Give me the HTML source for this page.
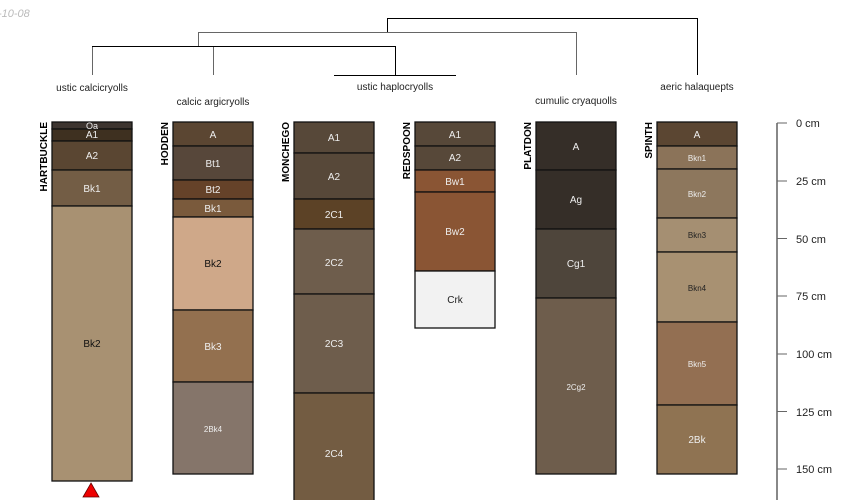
<!DOCTYPE html>
<html><head><meta charset="utf-8"><style>
html,body{margin:0;padding:0;background:#fff;}
svg{display:block;font-family:"Liberation Sans",sans-serif;}
</style></head><body>
<svg width="850" height="500" viewBox="0 0 850 500" xmlns="http://www.w3.org/2000/svg">
<text x="-2" y="17" font-size="11" font-style="italic" fill="#bbb">-10-08</text>
<!-- dendrogram -->
<g fill="none" stroke-width="1">
<path d="M387.5 33 V18.5 H697.5 V75" stroke="#000"/>
<path d="M198.5 47 V32.5 H576.5 V75" stroke="#666"/>
<path d="M92.5 75 V46.5 H395.5 V75" stroke="#000"/>
<path d="M92.5 47 V75" stroke="#666"/>
<path d="M213.5 47 V75" stroke="#666"/>
<path d="M334 75.5 H456" stroke="#000"/>
</g>
<g font-size="10" fill="#222" text-anchor="middle">
<text x="92" y="91">ustic calcicryolls</text>
<text x="213" y="105">calcic argicryolls</text>
<text x="395" y="90">ustic haplocryolls</text>
<text x="576" y="104">cumulic cryaquolls</text>
<text x="697" y="90">aeric halaquepts</text>
</g>
<g font-size="10" font-weight="bold" fill="#000" text-anchor="end">
<text transform="translate(47,122) rotate(-90)">HARTBUCKLE</text>
<text transform="translate(168,122) rotate(-90)">HODDEN</text>
<text transform="translate(289,122) rotate(-90)">MONCHEGO</text>
<text transform="translate(410,122) rotate(-90)">REDSPOON</text>
<text transform="translate(531,122) rotate(-90)">PLATDON</text>
<text transform="translate(652,122) rotate(-90)">SPINTH</text>
</g>
<g stroke="#111" stroke-width="1.3" font-size="10" text-anchor="middle">
<!-- HARTBUCKLE -->
<rect x="52" y="122" width="80" height="7" fill="#3d3530"/>
<rect x="52" y="129" width="80" height="12" fill="#3e3020"/>
<rect x="52" y="141" width="80" height="29" fill="#5a4632"/>
<rect x="52" y="170" width="80" height="36" fill="#735d45"/>
<rect x="52" y="206" width="80" height="275" fill="#a89172"/>
<!-- HODDEN -->
<rect x="173" y="122" width="80" height="24" fill="#5b4632"/>
<rect x="173" y="146" width="80" height="34" fill="#57473a"/>
<rect x="173" y="180" width="80" height="19" fill="#654229"/>
<rect x="173" y="199" width="80" height="18" fill="#7a5a3c"/>
<rect x="173" y="217" width="80" height="93" fill="#cfa889"/>
<rect x="173" y="310" width="80" height="72" fill="#93704f"/>
<rect x="173" y="382" width="80" height="92" fill="#85756a"/>
<!-- MONCHEGO -->
<rect x="294" y="122" width="80" height="31" fill="#574839"/>
<rect x="294" y="153" width="80" height="46" fill="#574839"/>
<rect x="294" y="199" width="80" height="30" fill="#5c4226"/>
<rect x="294" y="229" width="80" height="65" fill="#6e5d4c"/>
<rect x="294" y="294" width="80" height="99" fill="#6e5d4c"/>
<rect x="294" y="393" width="80" height="110" fill="#735c42"/>
<!-- REDSPOON -->
<rect x="415" y="122" width="80" height="24" fill="#574839"/>
<rect x="415" y="146" width="80" height="24" fill="#574839"/>
<rect x="415" y="170" width="80" height="22" fill="#8a5534"/>
<rect x="415" y="192" width="80" height="79" fill="#8a5534"/>
<rect x="415" y="271" width="80" height="57" fill="#f2f2f2"/>
<!-- PLATDON -->
<rect x="536" y="122" width="80" height="48" fill="#352e28"/>
<rect x="536" y="170" width="80" height="59" fill="#352e28"/>
<rect x="536" y="229" width="80" height="69" fill="#4e453b"/>
<rect x="536" y="298" width="80" height="176" fill="#6e5d4c"/>
<!-- SPINTH -->
<rect x="657" y="122" width="80" height="24" fill="#5b4632"/>
<rect x="657" y="146" width="80" height="23" fill="#8b7359"/>
<rect x="657" y="169" width="80" height="49" fill="#8d775d"/>
<rect x="657" y="218" width="80" height="34" fill="#a58f72"/>
<rect x="657" y="252" width="80" height="70" fill="#a89172"/>
<rect x="657" y="322" width="80" height="83" fill="#936f52"/>
<rect x="657" y="405" width="80" height="69" fill="#8f7352"/>
</g>
<g font-size="10" text-anchor="middle" fill="#eee">
<text x="92" y="129" font-size="9">Oa</text>
<text x="92" y="138">A1</text>
<text x="92" y="159">A2</text>
<text x="92" y="192">Bk1</text>
<text x="92" y="347" fill="#111">Bk2</text>
<text x="213" y="138">A</text>
<text x="213" y="167">Bt1</text>
<text x="213" y="193">Bt2</text>
<text x="213" y="212">Bk1</text>
<text x="213" y="267" fill="#111">Bk2</text>
<text x="213" y="350">Bk3</text>
<text x="213" y="432" font-size="8">2Bk4</text>
<text x="334" y="141">A1</text>
<text x="334" y="180">A2</text>
<text x="334" y="218">2C1</text>
<text x="334" y="266">2C2</text>
<text x="334" y="347">2C3</text>
<text x="334" y="457">2C4</text>
<text x="455" y="138">A1</text>
<text x="455" y="161">A2</text>
<text x="455" y="185">Bw1</text>
<text x="455" y="235">Bw2</text>
<text x="455" y="303" fill="#222">Crk</text>
<text x="576" y="150">A</text>
<text x="576" y="203">Ag</text>
<text x="576" y="267">Cg1</text>
<text x="576" y="390" font-size="8">2Cg2</text>
<text x="697" y="138">A</text>
<text x="697" y="161" font-size="8">Bkn1</text>
<text x="697" y="197" font-size="8">Bkn2</text>
<text x="697" y="238" font-size="8" fill="#222">Bkn3</text>
<text x="697" y="291" font-size="8" fill="#222">Bkn4</text>
<text x="697" y="367" font-size="8">Bkn5</text>
<text x="697" y="443">2Bk</text>
</g>
<polygon points="91,483 99,497 83,497" fill="#e00" stroke="#600" stroke-width="0.8"/>
<!-- axis -->
<g stroke="#888" stroke-width="2">
<line x1="777" y1="123" x2="777" y2="500"/>
</g>
<g stroke="#666" stroke-width="1">
<line x1="777" y1="123" x2="787" y2="123"/>
<line x1="777" y1="181" x2="787" y2="181"/>
<line x1="777" y1="238.5" x2="787" y2="238.5"/>
<line x1="777" y1="296" x2="787" y2="296"/>
<line x1="777" y1="354" x2="787" y2="354"/>
<line x1="777" y1="411.5" x2="787" y2="411.5"/>
<line x1="777" y1="469" x2="787" y2="469"/>
</g>
<g font-size="11" fill="#222">
<text x="796" y="127">0 cm</text>
<text x="796" y="185">25 cm</text>
<text x="796" y="243">50 cm</text>
<text x="796" y="300">75 cm</text>
<text x="796" y="358">100 cm</text>
<text x="796" y="416">125 cm</text>
<text x="796" y="473">150 cm</text>
</g>
</svg>
</body></html>
